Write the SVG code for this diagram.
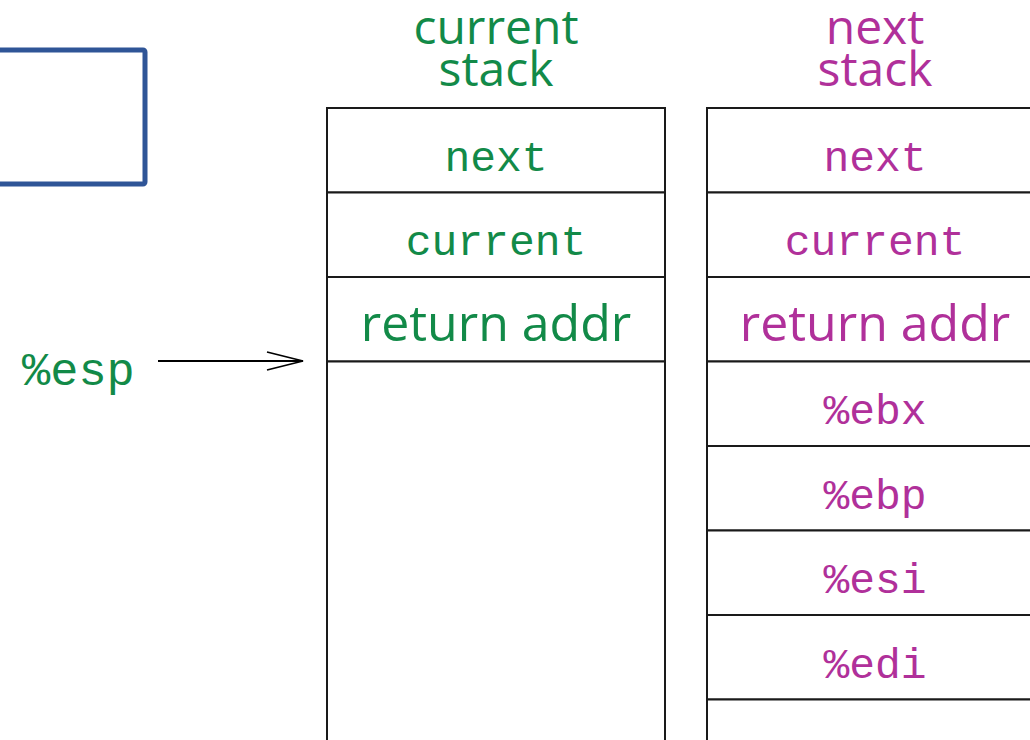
<svg xmlns="http://www.w3.org/2000/svg" width="1030" height="740" viewBox="0 0 1030 740">
<style>
.cell{fill:#fff;stroke:#1a1a1a;stroke-width:2}
.title{font-family:"Open Sans","Noto Sans",sans-serif;font-size:48px;text-anchor:middle}
.big{font-family:"Open Sans","Noto Sans",sans-serif;font-size:50px;text-anchor:middle}
.mono{font-family:"Liberation Mono",monospace;font-size:43px;text-anchor:middle}
.g{fill:#128a48}
.m{fill:#b0309a}
</style>
<defs>
<marker id="open" viewBox="0 0 40 20" refX="38" refY="10" markerWidth="40" markerHeight="20" markerUnits="userSpaceOnUse" orient="auto">
<path d="M2,1 L38,10 L2,19" fill="none" stroke="#000" stroke-width="1.8"/>
</marker>
</defs>
<rect width="1030" height="740" fill="#fff"/>
<g id="bluebox">
<rect x="-10" y="50" width="155" height="134" rx="2" fill="none" stroke="#2f5597" stroke-width="5"/>
</g>
<g id="current-stack">
<text class="title g" x="496" y="44">current</text>
<text class="title g" x="496" y="86">stack</text>
<rect class="cell" x="327" y="108" width="338" height="84.5"/>
<rect class="cell" x="327" y="192.5" width="338" height="84.5"/>
<rect class="cell" x="327" y="277" width="338" height="84.5"/>
<rect class="cell" x="327" y="361.5" width="338" height="400"/>
<text class="mono g" x="496" y="171">next</text>
<text class="mono g" x="496" y="255">current</text>
<text class="big g" x="496" y="341">return addr</text>
</g>
<g id="next-stack">
<text class="title m" x="875" y="44">next</text>
<text class="title m" x="875" y="86">stack</text>
<rect class="cell" x="707" y="108" width="340" height="84.5"/>
<rect class="cell" x="707" y="192.5" width="340" height="84.5"/>
<rect class="cell" x="707" y="277" width="340" height="84.5"/>
<rect class="cell" x="707" y="361.5" width="340" height="84.5"/>
<rect class="cell" x="707" y="446" width="340" height="84.5"/>
<rect class="cell" x="707" y="530.5" width="340" height="84.5"/>
<rect class="cell" x="707" y="615" width="340" height="84.5"/>
<rect class="cell" x="707" y="699.5" width="340" height="84.5"/>
<text class="mono m" x="875" y="171">next</text>
<text class="mono m" x="875" y="255">current</text>
<text class="big m" x="875" y="341">return addr</text>
<text class="mono m" x="875" y="424">%ebx</text>
<text class="mono m" x="875" y="509">%ebp</text>
<text class="mono m" x="875" y="593">%esi</text>
<text class="mono m" x="875" y="678">%edi</text>
</g>
<g id="esp">
<text x="22" y="385" font-family="Liberation Mono,monospace" font-size="47" class="g">%esp</text>
</g>
<g id="connectors">
<line x1="158" y1="361" x2="303" y2="361" stroke="#000" stroke-width="1.8" marker-end="url(#open)"/>
</g>
</svg>
